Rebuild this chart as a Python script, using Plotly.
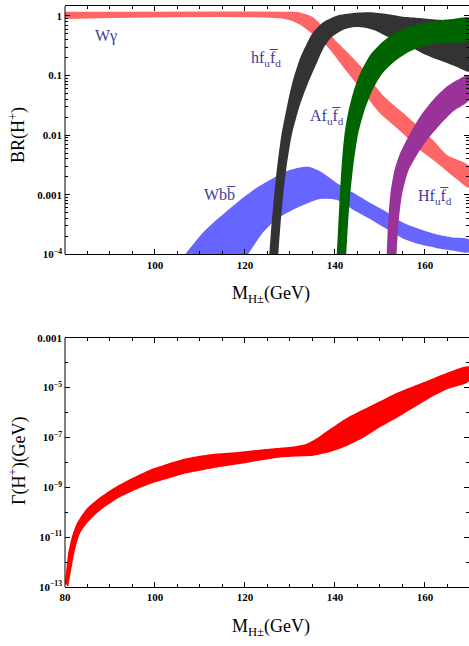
import plotly.graph_objects as go

# ---------------- Top panel: BR(H+) bands (mass in GeV, upper / lower edges) ----------------
wg_up_m = [80, 130, 132.2, 135.1, 137.8, 140.4, 143.3, 146, 148.2, 150.7, 154.4, 158.2, 161.8, 164.9, 169.8]
wg_up = [1.17, 1.17, 1.14, 0.951, 0.607, 0.368, 0.224, 0.136, 0.0794, 0.0464, 0.0263, 0.0147, 0.00825, 0.00464, 0.00304]
wg_lo_m = [80, 128.9, 132.2, 134.4, 137.3, 139.6, 141.8, 144.4, 147.1, 150, 153.8, 156.7, 158.9, 162.7, 166.7, 169.8]
wg_lo = [0.891, 0.891, 0.716, 0.541, 0.368, 0.233, 0.141, 0.0794, 0.0432, 0.0233, 0.0131, 0.00825, 0.00562, 0.00341, 0.00192, 0.00131]

h_up_m = [125.4, 125.9, 126.5, 127.2, 128.1, 129.4, 130.5, 132.2, 133.7, 135.2, 137.4, 140.4, 144.1, 147.8, 151.5, 155.2, 158.9, 163.3, 169.8]
h_up = [1e-4, 3.16e-4, 1e-3, 3.16e-3, 0.01, 0.0316, 0.0741, 0.191, 0.339, 0.537, 0.785, 1.01, 1.12, 1.15, 1.08, 0.973, 0.927, 0.859, 0.794]
h_lo_m = [127.4, 127.9, 128.5, 129.3, 130.4, 132.2, 134.0, 135.9, 137.4, 139.3, 141.8, 144.4, 146.7, 149.3, 151.1, 155.6, 159.6, 163.3, 167, 169.8]
h_lo = [1e-4, 3.16e-4, 1e-3, 3.16e-3, 0.01, 0.0316, 0.0741, 0.158, 0.282, 0.442, 0.583, 0.649, 0.631, 0.556, 0.470, 0.341, 0.233, 0.180, 0.140, 0.117]

a_up_m = [140.4, 140.75, 141.1, 141.5, 142.1, 143.0, 144.2, 145.8, 148.0, 150.5, 153.7, 157.4, 161.8, 166.3, 169.8]
a_up = [1e-4, 3.16e-4, 1e-3, 3.16e-3, 0.01, 0.0251, 0.0562, 0.117, 0.229, 0.363, 0.537, 0.692, 0.817, 0.891, 0.927]
a_lo_m = [142.5, 142.9, 143.4, 144.1, 145.1, 146.5, 148.3, 150.5, 153.3, 156.5, 160, 164, 169.8]
a_lo = [1e-4, 3.16e-4, 1e-3, 3.16e-3, 0.01, 0.0251, 0.0562, 0.107, 0.174, 0.251, 0.316, 0.355, 0.380]

hh_up_m = [151.5, 151.8, 152.3, 153.2, 154.5, 156.5, 158.9, 161.8, 164.8, 167.8, 169.8]
hh_up = [1e-4, 3.16e-4, 1e-3, 2.51e-3, 5.01e-3, 0.01, 0.0204, 0.0389, 0.0646, 0.0891, 0.101]
hh_lo_m = [153.7, 154.1, 154.9, 156.3, 158.5, 160.8, 163.3, 166.3, 169.8]
hh_lo = [1e-4, 3.16e-4, 1e-3, 2.51e-3, 5.01e-3, 8.91e-3, 0.0148, 0.0251, 0.0389]

b_up_m = [106.7, 110.7, 114.4, 118.2, 121.8, 125.6, 129.3, 132.9, 134.4, 136.7, 140.4, 144, 147.8, 151.6, 155.1, 158.9, 162.7, 166.2, 169.8]
b_up = [1e-4, 2.32e-4, 4.22e-4, 7.36e-4, 1.19e-3, 1.78e-3, 2.51e-3, 2.93e-3, 2.93e-3, 2.48e-3, 1.58e-3, 1.09e-3, 7.36e-4, 5.1e-4, 3.41e-4, 2.63e-4, 2.15e-4, 1.92e-4, 1.78e-4]
b_lo_m = [120.7, 124, 127.1, 131.6, 136.7, 140.4, 144, 147.8, 151.6, 155.1, 158.9, 162.7, 166.2, 169.8]
b_lo = [1e-4, 2.32e-4, 3.92e-4, 6.06e-4, 8.5e-4, 8.2e-4, 5.6e-4, 3.92e-4, 2.63e-4, 1.85e-4, 1.47e-4, 1.27e-4, 1.16e-4, 1.08e-4]

# ---------------- Bottom panel: total width Gamma(H+) in GeV ----------------
g_up_m = [80, 80.7, 81.5, 82.6, 84.8, 87.8, 91.5, 95.2, 98.9, 102.6, 106.3, 110, 113.7, 118.9, 124.1, 127.8, 131.5, 133.7,
          135.9, 138.2, 140.4, 142.6, 146.3, 150, 153.7, 157.4, 161.1, 164.8, 169.8]
g_up = [1.41e-13, 2.19e-12, 1.0e-11, 3.47e-11, 1.38e-10, 3.98e-10, 1.10e-9, 2.45e-9, 5.01e-9, 8.51e-9, 1.35e-8, 1.82e-8,
        2.24e-8, 2.69e-8, 3.39e-8, 3.89e-8, 4.57e-8, 5.62e-8, 9.12e-8, 1.78e-7, 3.31e-7, 6.03e-7, 1.32e-6, 2.82e-6,
        6.03e-6, 1.12e-5, 2.04e-5, 3.80e-5, 6.92e-5]
g_lo_m = [80.7, 81.5, 82.2, 83.3, 84.8, 87.8, 91.5, 95.2, 98.9, 102.6, 106.3, 110, 113.7, 118.9, 124.1, 127.8, 131.5, 135.2,
          137.4, 139.6, 142.6, 146.3, 150, 153.7, 157.4, 161.1, 164.8, 169.8]
g_lo = [1.02e-13, 6.46e-13, 2.95e-12, 1.38e-11, 3.47e-11, 1.17e-10, 3.39e-10, 7.24e-10, 1.35e-9, 2.14e-9, 3.39e-9, 4.57e-9,
        6.17e-9, 8.51e-9, 1.23e-8, 1.55e-8, 1.70e-8, 1.82e-8, 2.24e-8, 2.88e-8, 4.57e-8, 9.77e-8, 2.57e-7, 6.03e-7,
        1.51e-6, 3.80e-6, 8.32e-6, 1.78e-5]

# ---------------- Tick labels ----------------
x_top_ticks = [100, 120, 140, 160]
x_bot_ticks = [80, 100, 120, 140, 160]
y_top_ticks = [1e-4, 1e-3, 1e-2, 1e-1, 1]
y_top_text = ["10<sup>−4</sup>", "0.001", "0.01", "0.1", "1"]
y_bot_ticks = [1e-13, 1e-11, 1e-9, 1e-7, 1e-5, 1e-3]
y_bot_text = ["10<sup>−13</sup>", "10<sup>−11</sup>", "10<sup>−9</sup>", "10<sup>−7</sup>", "10<sup>−5</sup>", "0.001"]

labels = [("Wγ", 89.1, -0.333), ("hf<sub>u</sub>f\u0305<sub>d</sub>", 124.7, -0.717),
          ("Af<sub>u</sub>f\u0305<sub>d</sub>", 138.2, -1.70), ("Wbb\u0305", 114.4, -3.0),
          ("Hf<sub>u</sub>f\u0305<sub>d</sub>", 162.2, -3.03)]

FONT = "Liberation Serif"
LABEL_COLOR = "#3c3c9c"


def band(xu, yu, xl, yl, color, xa, ya):
    return go.Scatter(x=list(xu) + list(xl)[::-1], y=list(yu) + list(yl)[::-1], fill="toself",
                      fillcolor=color, mode="lines",
                      line=dict(width=0, color=color, shape="spline", smoothing=0.7),
                      hoverinfo="skip", xaxis=xa, yaxis=ya)


fig = go.Figure()
fig.add_trace(band(b_up_m, b_up, b_lo_m, b_lo, "#6666ff", "x", "y"))
fig.add_trace(band(wg_up_m, wg_up, wg_lo_m, wg_lo, "#ff6666", "x", "y"))
fig.add_trace(band(h_up_m, h_up, h_lo_m, h_lo, "#333333", "x", "y"))
fig.add_trace(band(a_up_m, a_up, a_lo_m, a_lo, "#006400", "x", "y"))
fig.add_trace(band(hh_up_m, hh_up, hh_lo_m, hh_lo, "#993399", "x", "y"))
fig.add_trace(band(g_up_m, g_up, g_lo_m, g_lo, "#ff0000", "x2", "y2"))

tickfont = dict(family=FONT, size=11, color="black", weight="bold")
xcommon = dict(type="linear", range=[80, 169.8], ticks="inside", ticklen=5, tickwidth=1, tickcolor="black",
               showline=True, linecolor="black", linewidth=1, mirror="ticks", showgrid=False, zeroline=False,
               tickfont=tickfont, tickmode="array",
               minor=dict(tickmode="linear", tick0=80, dtick=5, ticks="inside", ticklen=3, tickcolor="black"))
ycommon = dict(type="log", ticks="inside", ticklen=5, tickwidth=1, tickcolor="black", showline=False,
               mirror="ticks", showgrid=False, zeroline=False, tickfont=tickfont, tickmode="array",
               ticklabelstandoff=2)

top_minor = [m * 10 ** e for e in (-4, -3, -2, -1) for m in range(2, 10)]
bot_minor = [10.0 ** e for e in (-12, -10, -8, -6, -4)]

fig.update_layout(
    width=469, height=646, margin=dict(l=65, r=0, t=2, b=59),
    paper_bgcolor="white", plot_bgcolor="white", showlegend=False,
    font=dict(family=FONT, color="black"),
    xaxis=dict(xcommon, domain=[0, 1], anchor="y", tickvals=x_top_ticks),
    yaxis=dict(ycommon, domain=[0.5726, 1], anchor="x", range=[-4, 0.1667], tickvals=y_top_ticks,
               ticktext=y_top_text, minor=dict(tickvals=top_minor, ticks="inside", ticklen=3, tickcolor="black")),
    xaxis2=dict(xcommon, domain=[0, 1], anchor="y2", tickvals=x_bot_ticks),
    yaxis2=dict(ycommon, domain=[0, 0.4291], anchor="x2", range=[-13, -3], tickvals=y_bot_ticks,
                ticktext=y_bot_text, minor=dict(tickvals=bot_minor, ticks="inside", ticklen=3, tickcolor="black")),
)

# left frame lines
for ya in ("y", "y2"):
    fig.add_shape(type="line", xref="x domain" if ya == "y" else "x2 domain", yref=ya + " domain",
                  x0=0, x1=0, y0=0, y1=1, line=dict(color="black", width=1))

for txt, xm, ly in labels:
    fig.add_annotation(text=txt, x=xm, y=ly, xref="x", yref="y", showarrow=False,
                       font=dict(family=FONT, size=16, color=LABEL_COLOR), xanchor="center", yanchor="middle")

# axis titles
title_font = dict(family=FONT, size=18, color="black")
fig.add_annotation(text="M<sub>H±</sub>(GeV)", x=0.51, y=0.5026, xref="paper", yref="paper", showarrow=False,
                   font=title_font, xanchor="center", yanchor="middle")
fig.add_annotation(text="M<sub>H±</sub>(GeV)", x=0.51, y=-0.0701, xref="paper", yref="paper", showarrow=False,
                   font=title_font, xanchor="center", yanchor="middle")
fig.add_annotation(text="BR(H<sup>+</sup>)", x=-0.1163, y=0.7778, xref="paper", yref="paper", showarrow=False,
                   font=title_font, textangle=-90, xanchor="center", yanchor="middle")
fig.add_annotation(text="Γ(H<sup>+</sup>)(GeV)", x=-0.1163, y=0.2171, xref="paper", yref="paper", showarrow=False,
                   font=title_font, textangle=-90, xanchor="center", yanchor="middle")

fig.write_html("out.html", config={"displayModeBar": False},
               post_script="document.body.style.margin='0';document.body.style.overflow='hidden';")
